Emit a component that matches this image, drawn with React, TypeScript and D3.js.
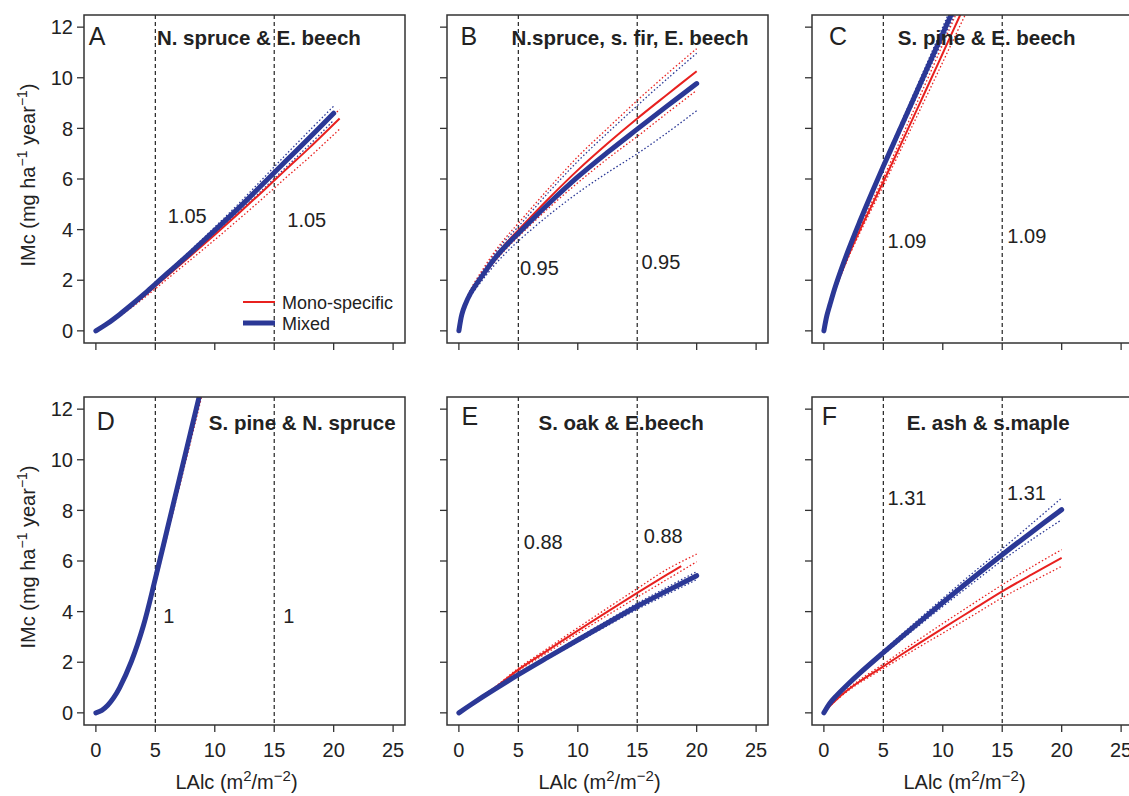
import React from 'react';
import * as d3 from 'd3';

// ---------- axis ticks ----------
const xTicks = [0, 5, 10, 15, 20, 25];
const yTicks = [0, 2, 4, 6, 8, 10, 12];
const refLines = [5, 15];

// ---------- Panel A: N. spruce & E. beech ----------
const xA = [0, 1, 2, 3, 4, 5, 6, 8, 10, 12, 14, 16, 18, 20];
const mixA = [0, 0.3, 0.65, 1.03, 1.43, 1.85, 2.27, 3.1, 3.97, 4.85, 5.78, 6.72, 7.65, 8.6];
const mixAHi = [0, 0.31, 0.67, 1.06, 1.47, 1.9, 2.34, 3.2, 4.1, 5.02, 5.99, 6.97, 7.93, 8.88];
const mixALo = [0, 0.29, 0.63, 1.0, 1.39, 1.8, 2.2, 3.0, 3.84, 4.68, 5.57, 6.47, 7.37, 8.32];
const xAm = [0, 1, 2, 3, 4, 5, 6, 8, 10, 12, 14, 16, 18, 20.5];
const monoA = [0, 0.28, 0.62, 0.98, 1.36, 1.76, 2.17, 2.98, 3.8, 4.64, 5.5, 6.38, 7.25, 8.39];
const monoAHi = [0, 0.3, 0.66, 1.04, 1.44, 1.86, 2.29, 3.14, 4.0, 4.88, 5.78, 6.7, 7.62, 8.75];
const monoALo = [0, 0.26, 0.58, 0.92, 1.28, 1.66, 2.05, 2.82, 3.6, 4.4, 5.22, 6.06, 6.88, 7.97];

// ---------- Panel B: N.spruce, s. fir, E. beech ----------
const xB = [0, 0.25, 0.5, 1, 2, 3, 4, 5, 7.5, 10, 12.5, 15, 17.5, 20];
const mixB = [0, 0.65, 1.0, 1.5, 2.2, 2.85, 3.38, 3.85, 5.0, 6.08, 7.05, 7.97, 8.88, 9.77];
const mixBHi = [0, 0.7, 1.08, 1.62, 2.36, 3.05, 3.62, 4.12, 5.45, 6.7, 7.82, 8.9, 9.95, 10.97];
const mixBLo = [0, 0.6, 0.92, 1.38, 2.02, 2.6, 3.1, 3.55, 4.55, 5.45, 6.25, 7.0, 7.82, 8.7];
const monoB = [0, 0.66, 1.02, 1.53, 2.25, 2.92, 3.48, 3.98, 5.2, 6.35, 7.4, 8.39, 9.33, 10.26];
const monoBHi = [0, 0.7, 1.1, 1.65, 2.42, 3.12, 3.72, 4.25, 5.6, 6.88, 8.0, 9.1, 10.15, 11.15];
const monoBLo = [0, 0.62, 0.95, 1.42, 2.1, 2.72, 3.25, 3.72, 4.83, 5.85, 6.8, 7.68, 8.6, 9.5];

// ---------- Panel C: S. pine & E. beech ----------
const xC = [0, 0.25, 0.5, 1, 2, 3, 4, 5, 6, 7, 8, 9, 10, 11, 12];
const mixC = [0, 0.6, 1.02, 1.8, 3.12, 4.3, 5.42, 6.5, 7.55, 8.6, 9.65, 10.7, 11.75, 12.8, 13.85];
const mixCHi = [0, 0.61, 1.04, 1.83, 3.17, 4.37, 5.51, 6.61, 7.69, 8.77, 9.85, 10.93, 12.01, 13.09, 14.17];
const mixCLo = [0, 0.59, 1.0, 1.77, 3.07, 4.23, 5.33, 6.39, 7.41, 8.43, 9.45, 10.47, 11.49, 12.51, 13.53];
const monoC = [0, 0.58, 0.98, 1.7, 2.9, 3.95, 4.93, 5.89, 6.89, 7.9, 8.92, 9.94, 10.97, 12.0, 13.03];
const monoCHi = [0, 0.59, 1.0, 1.74, 2.97, 4.05, 5.06, 6.05, 7.08, 8.13, 9.19, 10.25, 11.32, 12.39, 13.46];
const monoCLo = [0, 0.57, 0.96, 1.66, 2.83, 3.85, 4.8, 5.73, 6.7, 7.67, 8.65, 9.63, 10.62, 11.61, 12.6];

// ---------- Panel D: S. pine & N. spruce ----------
const xD = [0, 0.5, 1, 1.5, 2, 3, 4, 5, 6, 7, 8, 9];
const mixD = [0, 0.1, 0.3, 0.6, 1.0, 2.05, 3.45, 5.3, 7.25, 9.2, 11.15, 13.1];
const mixDHi = [0, 0.1, 0.31, 0.62, 1.03, 2.1, 3.52, 5.4, 7.38, 9.36, 11.34, 13.32];
const mixDLo = [0, 0.1, 0.29, 0.58, 0.97, 2.0, 3.38, 5.2, 7.12, 9.04, 10.96, 12.88];
const monoD = [0, 0.09, 0.28, 0.57, 0.95, 2.0, 3.4, 5.22, 7.15, 9.08, 11.0, 12.95];
const monoDHi = [0, 0.1, 0.3, 0.61, 1.0, 2.07, 3.5, 5.34, 7.3, 9.28, 11.22, 13.2];
const monoDLo = [0, 0.08, 0.26, 0.53, 0.9, 1.93, 3.3, 5.1, 7.0, 8.88, 10.78, 12.7];

// ---------- Panel E: S. oak & E.beech ----------
const xE = [0, 1, 2, 3, 5, 7.5, 10, 12.5, 15, 17.5, 20];
const mixE = [0, 0.32, 0.63, 0.93, 1.51, 2.2, 2.88, 3.55, 4.21, 4.82, 5.42];
const mixEHi = [0, 0.33, 0.65, 0.96, 1.55, 2.26, 2.96, 3.65, 4.33, 4.96, 5.58];
const mixELo = [0, 0.31, 0.61, 0.9, 1.47, 2.14, 2.8, 3.45, 4.09, 4.68, 5.26];
const xEm = [0, 1, 2, 3, 5, 7.5, 10, 12.5, 15, 17.5, 18.7];
const monoE = [0, 0.33, 0.66, 0.98, 1.71, 2.48, 3.25, 4.0, 4.74, 5.46, 5.8];
const monoEHi = [0, 0.34, 0.68, 1.01, 1.76, 2.56, 3.36, 4.14, 4.91, 5.67, 6.27];
const monoELo = [0, 0.32, 0.64, 0.95, 1.66, 2.4, 3.14, 3.86, 4.57, 5.27, 5.97];

// ---------- Panel F: E. ash & s.maple ----------
const xF = [0, 0.5, 1, 2, 3, 5, 7.5, 10, 12.5, 15, 17.5, 20];
const mixF = [0, 0.38, 0.65, 1.12, 1.56, 2.38, 3.38, 4.36, 5.32, 6.25, 7.15, 8.03];
const mixFHi = [0, 0.39, 0.67, 1.15, 1.61, 2.46, 3.5, 4.52, 5.52, 6.48, 7.48, 8.49];
const mixFLo = [0, 0.37, 0.63, 1.09, 1.51, 2.3, 3.26, 4.2, 5.12, 6.02, 6.85, 7.63];
const monoF = [0, 0.27, 0.5, 0.9, 1.24, 1.84, 2.6, 3.34, 4.07, 4.8, 5.47, 6.12];
const monoFHi = [0, 0.28, 0.52, 0.94, 1.3, 1.93, 2.74, 3.53, 4.3, 5.06, 5.77, 6.45];
const monoFLo = [0, 0.26, 0.48, 0.86, 1.18, 1.75, 2.46, 3.15, 3.84, 4.55, 5.18, 5.79];

// ---------- labels ----------
const panelLetters = ['A', 'B', 'C', 'D', 'E', 'F'];
const panelTitles = [
  'N. spruce & E. beech',
  'N.spruce, s. fir, E. beech',
  'S. pine & E. beech',
  'S. pine & N. spruce',
  'S. oak & E.beech',
  'E. ash & s.maple',
];
const ratioLabels = ['1.05', '0.95', '1.09', '1', '0.88', '1.31'];
// [x, y] of first and second ratio label (data units)
const ratioPos = [
  [[6.05, 4.26], [16.1, 4.1]],
  [[5.13, 2.2], [15.35, 2.44]],
  [[5.35, 3.27], [15.43, 3.47]],
  [[5.67, 3.55], [15.75, 3.55]],
  [[5.46, 6.49], [15.55, 6.71]],
  [[5.35, 8.22], [15.4, 8.42]],
];
const titlePos = [[5.13, 11.28], [4.43, 11.28], [6.22, 11.28], [9.5, 11.18], [6.7, 11.18], [6.97, 11.18]];
const letterPos = [[-0.59, 11.28], [0.14, 11.28], [0.42, 11.28], [0.08, 11.18], [0.23, 11.38], [-0.17, 11.38]];

type S = { xs: number[]; ys: number[] };
const panelSeries: { mix: S; mixHi: S; mixLo: S; mono: S; monoHi: S; monoLo: S }[] = [
  { mix: { xs: xA, ys: mixA }, mixHi: { xs: xA, ys: mixAHi }, mixLo: { xs: xA, ys: mixALo },
    mono: { xs: xAm, ys: monoA }, monoHi: { xs: xAm, ys: monoAHi }, monoLo: { xs: xAm, ys: monoALo } },
  { mix: { xs: xB, ys: mixB }, mixHi: { xs: xB, ys: mixBHi }, mixLo: { xs: xB, ys: mixBLo },
    mono: { xs: xB, ys: monoB }, monoHi: { xs: xB, ys: monoBHi }, monoLo: { xs: xB, ys: monoBLo } },
  { mix: { xs: xC, ys: mixC }, mixHi: { xs: xC, ys: mixCHi }, mixLo: { xs: xC, ys: mixCLo },
    mono: { xs: xC, ys: monoC }, monoHi: { xs: xC, ys: monoCHi }, monoLo: { xs: xC, ys: monoCLo } },
  { mix: { xs: xD, ys: mixD }, mixHi: { xs: xD, ys: mixDHi }, mixLo: { xs: xD, ys: mixDLo },
    mono: { xs: xD, ys: monoD }, monoHi: { xs: xD, ys: monoDHi }, monoLo: { xs: xD, ys: monoDLo } },
  { mix: { xs: xE, ys: mixE }, mixHi: { xs: xE, ys: mixEHi }, mixLo: { xs: xE, ys: mixELo },
    mono: { xs: xEm, ys: monoE }, monoHi: { xs: xE, ys: monoEHi }, monoLo: { xs: xE, ys: monoELo } },
  { mix: { xs: xF, ys: mixF }, mixHi: { xs: xF, ys: mixFHi }, mixLo: { xs: xF, ys: mixFLo },
    mono: { xs: xF, ys: monoF }, monoHi: { xs: xF, ys: monoFHi }, monoLo: { xs: xF, ys: monoFLo } },
];

// ---------- layout ----------
const W = 1129;
const H = 796;
const colLeft = [84, 447, 812];
const rowTop = [15, 397];
const PW = 321;
const PH = 328;
const RED = '#e8211f';
const BLUE = '#2b3896';
const INK = '#222';
const FONT = '"Liberation Sans", Arial, Helvetica, sans-serif';

function Panel({ i }: { i: number }) {
  const col = i % 3;
  const row = Math.floor(i / 3);
  const left = colLeft[col];
  const top = rowTop[row];
  const x = d3.scaleLinear().domain([-1, 26]).range([left, left + PW]);
  const y = d3.scaleLinear().domain([-0.48, 12.48]).range([top + PH, top]);
  const s = panelSeries[i];
  const mk = (d: S) =>
    d3.line<number>().x((_, k) => x(d.xs[k])).y((v) => y(v)).curve(d3.curveCatmullRom.alpha(0.5))(d.ys) || '';
  const clipId = `clip${i}`;
  const bottom = top + PH;
  return (
    <g>
      <defs>
        <clipPath id={clipId}>
          <rect x={left} y={top} width={PW} height={PH} />
        </clipPath>
      </defs>
      {/* reference dashed lines */}
      {refLines.map((v) => (
        <line key={v} x1={x(v)} x2={x(v)} y1={top} y2={bottom} stroke={INK} strokeWidth={1.2} strokeDasharray="4,3" />
      ))}
      <g clipPath={`url(#${clipId})`} fill="none">
        <path d={mk(s.mixHi)} stroke={BLUE} strokeWidth={1.3} strokeDasharray="1.5,2.2" />
        <path d={mk(s.mixLo)} stroke={BLUE} strokeWidth={1.3} strokeDasharray="1.5,2.2" />
        <path d={mk(s.monoHi)} stroke={RED} strokeWidth={1.3} strokeDasharray="1.5,2.2" />
        <path d={mk(s.monoLo)} stroke={RED} strokeWidth={1.3} strokeDasharray="1.5,2.2" />
        <path d={mk(s.mono)} stroke={RED} strokeWidth={2} />
        <path d={mk(s.mix)} stroke={BLUE} strokeWidth={5} strokeLinecap="round" />
      </g>
      {/* frame */}
      <rect x={left} y={top} width={PW} height={PH} fill="none" stroke="#333" strokeWidth={1.5} />
      {/* x ticks */}
      {xTicks.map((t) => (
        <line key={'xt' + t} x1={x(t)} x2={x(t)} y1={bottom} y2={bottom + 7} stroke="#333" strokeWidth={1.3} />
      ))}
      {row === 1 &&
        xTicks.map((t) => (
          <text key={'xl' + t} x={x(t)} y={bottom + 32} textAnchor="middle" fontSize={20} fill={INK}>
            {t}
          </text>
        ))}
      {/* y ticks */}
      {yTicks.map((t) => (
        <line key={'yt' + t} x1={left - 7} x2={left} y1={y(t)} y2={y(t)} stroke="#333" strokeWidth={1.3} />
      ))}
      {col === 0 &&
        yTicks.map((t) => (
          <text key={'yl' + t} x={left - 11} y={y(t)} dy="0.36em" textAnchor="end" fontSize={20} fill={INK}>
            {t}
          </text>
        ))}
      {/* letter & title */}
      <text x={x(letterPos[i][0])} y={y(letterPos[i][1])} fontSize={25} fill={INK}>
        {panelLetters[i]}
      </text>
      <text x={x(titlePos[i][0])} y={y(titlePos[i][1])} fontSize={20.5} fontWeight="bold" fill={INK}>
        {panelTitles[i]}
      </text>
      {ratioPos[i].map((p, k) => (
        <text key={'r' + k} x={x(p[0])} y={y(p[1])} fontSize={20} fill={INK}>
          {ratioLabels[i]}
        </text>
      ))}
      {/* axis titles */}
      {row === 1 && (
        <text x={left + PW / 2 - 8} y={789} textAnchor="middle" fontSize={20} fill={INK}>
          LAlc (m<tspan dy={-8} fontSize={15}>2</tspan>
          <tspan dy={8}>/m</tspan>
          <tspan dy={-8} fontSize={15}>−2</tspan>
          <tspan dy={8}>)</tspan>
        </text>
      )}
      {col === 0 && (
        <text
          transform={`translate(35,${top + PH / 2 - 4}) rotate(-90)`}
          textAnchor="middle"
          fontSize={20}
          fill={INK}
        >
          IMc (mg ha<tspan dy={-8} fontSize={14}>−1</tspan>
          <tspan dy={8}> year</tspan>
          <tspan dy={-8} fontSize={14}>−1</tspan>
          <tspan dy={8}>)</tspan>
        </text>
      )}
      {i === 0 && (
        <g>
          <line x1={243} x2={275} y1={302} y2={302} stroke={RED} strokeWidth={2} />
          <line x1={243} x2={275} y1={323} y2={323} stroke={BLUE} strokeWidth={5} />
          <text x={282} y={308.5} fontSize={18} fill={INK}>Mono-specific</text>
          <text x={282} y={329.5} fontSize={18} fill={INK}>Mixed</text>
        </g>
      )}
    </g>
  );
}

export default function App() {
  return (
    <svg
      width={W}
      height={H}
      style={{ position: 'absolute', left: 0, top: 0, background: '#fff', fontFamily: FONT }}
    >
      <rect x={0} y={0} width={W} height={H} fill="#fff" />
      {panelTitles.map((_, i) => (
        <Panel key={i} i={i} />
      ))}
    </svg>
  );
}
